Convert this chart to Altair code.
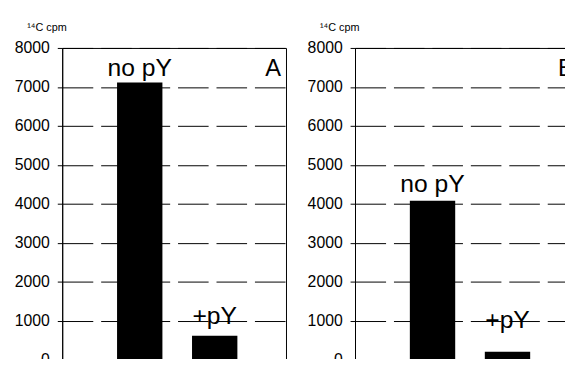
import altair as alt
import pandas as pd

categories = ["no pY", "+pY"]
panel_a_values = [7110, 610]
panel_b_values = [4075, 200]
panel_a_label_y = [7290, 910]
panel_b_label_y = [4300, 810]
y_ticks = [0, 1000, 2000, 3000, 4000, 5000, 6000, 7000, 8000]
panel_letters = ["A", "B"]

FONT = "Liberation Sans"


def y_axis():
    return alt.Axis(
        values=y_ticks,
        format="d",
        labelOverlap=False,
        title="¹⁴C cpm",
        titleAngle=0,
        titleAlign="left",
        titleBaseline="alphabetic",
        titleX=-36,
        titleY=-18,
        titleFontSize=11,
        titleFontWeight="normal",
        titleColor="black",
        labelFontSize=16,
        labelColor="black",
        labelPadding=8,
        tickSize=5,
        tickColor="black",
        domainColor="black",
        grid=True,
        gridColor="black",
        gridDash=[31, 8],
        gridWidth=1,
        gridOpacity=1,
    )


def panel(values, label_y, letter):
    df = pd.DataFrame({"cond": categories, "cpm": values, "label_y": label_y})
    base = alt.Chart(df)
    x = alt.X(
        "cond:N",
        sort=categories,
        scale=alt.Scale(paddingInner=0.395, paddingOuter=0.69, align=0.53),
        axis=None,
    )
    yscale = alt.Scale(domain=[0, 8000], nice=False)
    bars = base.mark_bar(color="black").encode(
        x=x,
        y=alt.Y("cpm:Q", scale=yscale, axis=y_axis()),
    )
    labels = base.mark_text(
        fontSize=25, baseline="alphabetic", align="center", color="black", font=FONT
    ).encode(
        x=x,
        y=alt.Y("label_y:Q", scale=yscale, axis=y_axis()),
        text="cond:N",
    )
    letter_chart = (
        alt.Chart(pd.DataFrame({"t": [letter]}))
        .mark_text(fontSize=24, baseline="alphabetic", align="right", color="black", font=FONT)
        .encode(x=alt.value(222), y=alt.value(28), text="t:N")
    )
    return alt.layer(bars, labels, letter_chart).properties(width=227, height=316)


chart = (
    alt.concat(
        panel(panel_a_values, panel_a_label_y, panel_letters[0]),
        panel(panel_b_values, panel_b_label_y, panel_letters[1]),
        columns=2,
        spacing=19,
    )
    .properties(
        padding={"left": 55, "top": 38, "right": 0, "bottom": 0},
        background="white",
        autosize=alt.AutoSizeParams(type="none"),
    )
    .configure(font=FONT)
    .configure_view(stroke="black", strokeWidth=1)
)

chart.save(
    "out.html",
    embed_options={"renderer": "svg", "actions": False, "width": 510, "height": 313},
)
